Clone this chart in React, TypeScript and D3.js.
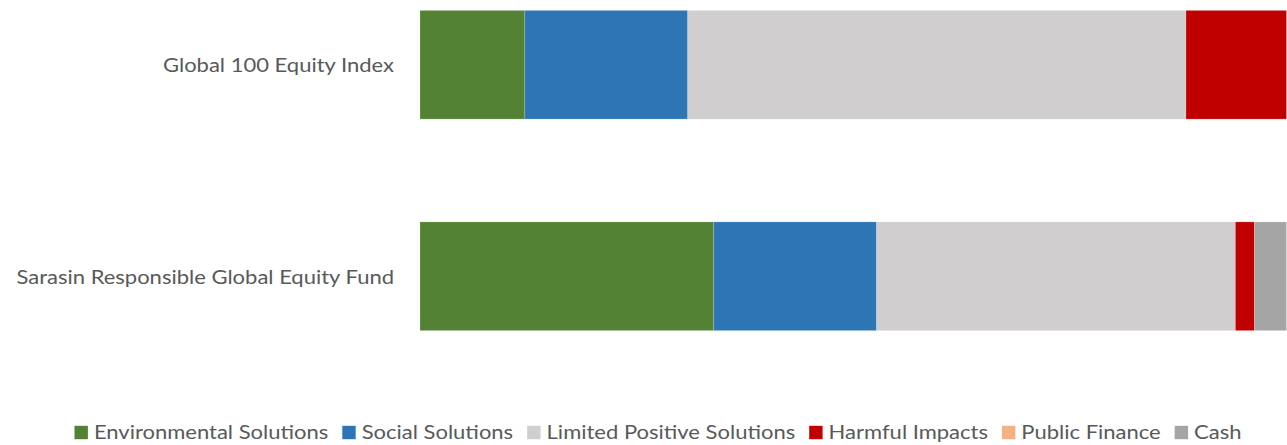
import React, { useEffect, useRef } from "react";
import * as d3 from "d3";

const categories = ["Global 100 Equity Index", "Sarasin Responsible Global Equity Fund"];
const seriesNames = [
  "Environmental Solutions",
  "Social Solutions",
  "Limited Positive Solutions",
  "Harmful Impacts",
  "Public Finance",
  "Cash",
];
const seriesColors = ["#548235", "#2E75B6", "#D0CECE", "#C00000", "#F4B183", "#A5A5A5"];
const environmental = [12.1, 33.9];
const social = [18.8, 18.8];
const limitedPositive = [57.5, 41.4];
const harmful = [11.6, 2.2];
const publicFinance = [0, 0];
const cash = [0, 3.7];

const W = 1287;
const H = 445;
const FONT = "Lato, 'Open Sans', 'DejaVu Sans', sans-serif";
const TEXT_COLOR = "#595959";
const FS = 20;
const SX = 1.1; // horizontal stretch of the text

export default function App() {
  const ref = useRef<SVGSVGElement | null>(null);

  useEffect(() => {
    const svg = d3.select(ref.current);
    svg.selectAll("*").remove();

    const series = [environmental, social, limitedPositive, harmful, publicFinance, cash];
    const rows = categories.map((c, i) => {
      const r: any = { category: c };
      seriesNames.forEach((s, j) => (r[s] = series[j][i]));
      return r;
    });
    const stacked = d3.stack<any>().keys(seriesNames)(rows);

    const x = d3.scaleLinear().domain([0, 100]).range([420, 1286.5]);
    const y = d3
      .scaleBand<string>()
      .domain(categories)
      .range([-41, 382])
      .paddingInner(0.486)
      .paddingOuter(0.243);

    const g = svg.append("g");
    stacked.forEach((layer, j) => {
      g.selectAll(null)
        .data(layer)
        .enter()
        .append("rect")
        .attr("x", (d) => x(d[0]))
        .attr("y", (d) => y(d.data.category)!)
        .attr("width", (d) => Math.max(0, x(d[1]) - x(d[0])))
        .attr("height", y.bandwidth())
        .attr("fill", seriesColors[j])
        .attr("stroke", "rgba(255,255,255,0.25)")
        .attr("stroke-width", 0.75);
    });

    // category labels
    svg
      .append("g")
      .selectAll("text")
      .data(categories)
      .enter()
      .append("text")
      .attr(
        "transform",
        (d) => `translate(394,${y(d)! + y.bandwidth() / 2 + 7.5}) scale(${SX},1)`
      )
      .attr("text-anchor", "end")
      .attr("font-family", FONT)
      .attr("font-size", FS)
      .attr("fill", TEXT_COLOR)
      .text((d) => d);

    // legend
    const lg = svg.append("g");
    const box = 13.4;
    const gapBoxText = 6;
    const gapItems = 14;
    const items = seriesNames.map((name, i) => {
      const it = lg.append("g");
      it.append("rect")
        .attr("x", 0)
        .attr("y", 425.8)
        .attr("width", box)
        .attr("height", box)
        .attr("fill", seriesColors[i]);
      const t = it
        .append("text")
        .attr("transform", `translate(${box + gapBoxText},439.3) scale(${SX},1)`)
        .attr("font-family", FONT)
        .attr("font-size", FS)
        .attr("fill", TEXT_COLOR)
        .text(name);
      const w = (t.node() as SVGTextElement).getComputedTextLength() * SX;
      return { it, w: box + gapBoxText + w };
    });
    const total = d3.sum(items, (d) => d.w) + gapItems * (items.length - 1);
    let cx = 658 - total / 2;
    items.forEach((d) => {
      d.it.attr("transform", `translate(${cx},0)`);
      cx += d.w + gapItems;
    });
  }, []);

  return (
    <svg
      ref={ref}
      width={W}
      height={H}
      style={{ position: "absolute", left: 0, top: 0, background: "#fff" }}
    />
  );
}
